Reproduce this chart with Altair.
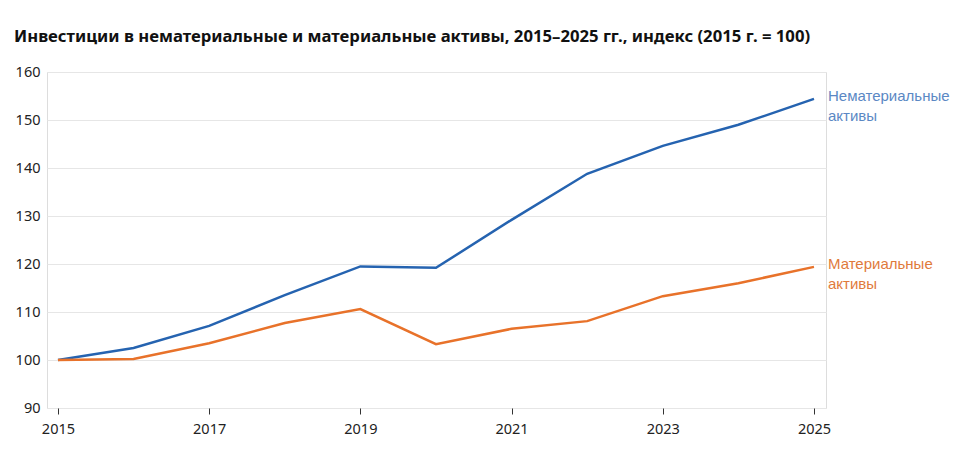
import altair as alt
import pandas as pd

years = [2015, 2016, 2017, 2018, 2019, 2020, 2021, 2022, 2023, 2024, 2025]
intangible = [100, 102.5, 107.1, 113.5, 119.5, 119.2, 129.2, 138.8, 144.6, 149.0, 154.4]
tangible = [100, 100.2, 103.5, 107.7, 110.6, 103.3, 106.5, 108.1, 113.3, 116.0, 119.4]
series_names = ["Нематериальные активы", "Материальные активы"]
label_lines = [["Нематериальные", "активы"], ["Материальные", "активы"]]
line_colors = ["#2563b0", "#e8722a"]
label_colors = ["#5b88c4", "#df7a3c"]
title_text = "Инвестиции в нематериальные и материальные активы, 2015–2025 гг., индекс (2015 г. = 100)"
x_ticks = [2015, 2017, 2019, 2021, 2023, 2025]
y_ticks = [90, 100, 110, 120, 130, 140, 150, 160]

rows = []
for name, vals, lab, lc in zip(series_names, [intangible, tangible], label_lines, label_colors):
    for yr, v in zip(years, vals):
        rows.append({"year": yr, "value": v, "series": name, "label": lab, "lcolor": lc})
df = pd.DataFrame(rows)

x = alt.X("year:Q",
          scale=alt.Scale(domain=[2014.855, 2025.159], nice=False, zero=False),
          axis=alt.Axis(values=x_ticks, format="d", title=None, grid=False, domain=False,
                        tickSize=6, tickColor="#333333", tickWidth=1,
                        labelFontSize=14.5, labelColor="#222222", labelFont="Noto Sans",
                        labelPadding=8))
y = alt.Y("value:Q",
          scale=alt.Scale(domain=[90, 160], nice=False, zero=False),
          axis=alt.Axis(values=y_ticks, title=None, ticks=False, domain=False,
                        gridColor="#e6e6e6", gridWidth=1,
                        labelFontSize=14.5, labelColor="#222222", labelFont="Noto Sans",
                        labelPadding=7))

color = alt.Color("series:N", scale=alt.Scale(domain=series_names, range=line_colors), legend=None)

lines = alt.Chart(df).mark_line(strokeWidth=2.5).encode(x=x, y=y, color=color)

labels = alt.Chart(df).transform_filter(alt.datum.year == 2025).mark_text(
    align="left", baseline="top", dx=14, dy=-10, fontSize=15, font="Liberation Sans", lineHeight=20
).encode(
    x="year:Q", y="value:Q", text="label",
    color=alt.Color("lcolor:N", scale=None)
)

chart = alt.layer(lines, labels).properties(
    width=779, height=336,
    padding={"left": 39, "top": 64, "right": 134, "bottom": 45},
    autosize=alt.AutoSizeParams(type="none"),
    title=alt.TitleParams(title_text, anchor="start", frame="group", dx=-33, offset=18,
                          fontSize=16.7, font="Noto Sans", fontWeight="bold", color="#111111"),
).configure_view(stroke=None).configure(background="white")

chart.save("out.html", embed_options={"renderer": "svg", "actions": False})
